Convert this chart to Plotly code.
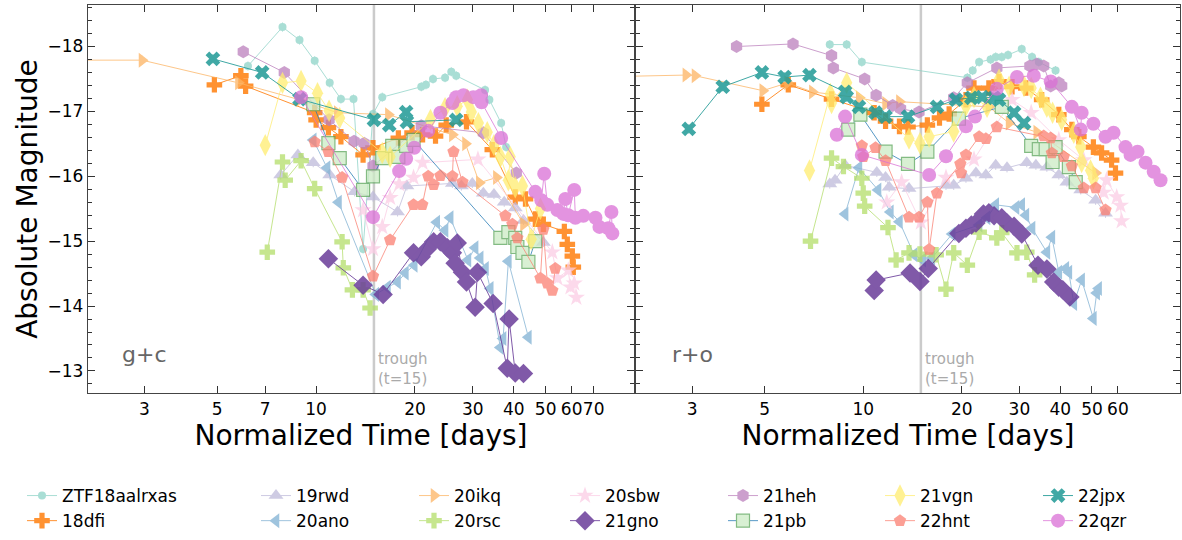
import plotly.graph_objects as go
from plotly.subplots import make_subplots
import math

# ---------------- data (Normalized time [days], absolute magnitude) ----------------
names = ["ZTF18aalrxas", "18dfi", "19rwd", "20ano", "20ikq", "20rsc", "20sbw",
         "21gno", "21heh", "21pb", "21vgn", "22hnt", "22jpx", "22qzr"]

ZTF18_g_t = [6.2, 7.9, 8.9, 9.9, 11.0, 11.9, 13.0, 13.9, 14.9, 15.9, 20.9, 21.6, 22.7, 24.7, 25.8, 26.7, 32.7, 33.7, 36.6, 37.9]
ZTF18_g_m = [-17.70, -18.30, -18.10, -17.78, -17.44, -17.19, -17.19, -14.88, -16.96, -17.22, -17.38, -17.41, -17.50, -17.52, -17.61, -17.55, -17.33, -17.18, -16.82, -16.45]
ZTF18_r_t = [7.9, 8.9, 9.9, 20.8, 21.6, 22.6, 24.5, 25.4, 26.5, 27.7, 30.5, 32.8, 34.4, 38.7]
ZTF18_r_m = [-18.03, -18.03, -17.76, -17.52, -17.63, -17.76, -17.80, -17.84, -17.84, -17.87, -17.96, -17.84, -17.76, -17.63]

dfi18_g_t = [4.9, 5.9, 6.1, 9.9, 10.0, 10.9, 11.9, 13.9, 14.9, 17.8, 19.6, 21.1, 23.1, 24.9, 28.7, 34.4, 40.4, 43.4, 46.5, 49.2, 57.0, 58.2, 60.3, 60.7]
dfi18_g_m = [-17.41, -17.55, -17.39, -16.98, -16.87, -16.75, -16.61, -16.33, -16.44, -16.59, -16.67, -16.64, -16.62, -16.79, -16.84, -16.41, -15.68, -15.65, -15.34, -15.26, -15.15, -14.95, -14.77, -14.60]
dfi18_r_t = [4.9, 5.9, 8.0, 10.8, 11.7, 12.9, 13.7, 15.7, 17.1, 18.3, 20.6, 21.8, 24.2, 26.0, 28.5, 31.4, 35.1, 39.6, 43.4, 45.6, 50.5, 53.5, 57.4, 59.0]
dfi18_r_m = [-17.11, -17.41, -17.19, -16.98, -16.85, -16.77, -16.76, -16.79, -16.90, -16.96, -17.18, -17.36, -17.36, -17.46, -17.38, -17.36, -17.18, -16.95, -16.72, -16.61, -16.45, -16.36, -16.25, -16.05]

rwd19_g_t = [7.8, 8.8, 9.8, 11.0, 13.1, 14.9, 17.7, 18.9, 26.0, 27.7, 29.9, 32.3, 34.8, 37.4, 40.4, 42.8, 49.2]
rwd19_g_m = [-16.02, -16.33, -16.21, -16.02, -15.76, -15.68, -15.45, -15.85, -15.89, -15.85, -15.89, -15.74, -15.72, -15.60, -15.51, -15.32, -14.98]
rwd19_r_t = [7.9, 8.2, 8.8, 11.0, 11.7, 12.0, 13.8, 17.9, 18.9, 20.6, 22.1, 23.7, 25.4, 27.5, 31.6, 33.7, 36.4, 39.6, 41.9, 46.2, 51.3, 55.0]
rwd19_r_m = [-15.88, -15.94, -16.17, -16.06, -15.98, -15.83, -15.81, -15.86, -15.86, -15.97, -16.05, -16.02, -16.17, -16.13, -16.21, -16.17, -16.14, -16.02, -15.91, -15.79, -15.63, -15.43]

ano20_g_t = [9.8, 10.8, 11.7, 15.2, 16.5, 17.7, 18.7, 19.9, 23.3, 24.7, 25.6, 29.0, 30.5, 31.6, 32.8, 33.9, 36.4, 37.1, 38.5, 44.3]
ano20_g_m = [-16.56, -16.13, -15.60, -14.18, -14.29, -14.37, -14.51, -14.63, -15.29, -15.17, -15.36, -14.71, -14.90, -14.74, -14.58, -14.27, -13.36, -13.50, -14.69, -13.52]
ano20_r_t = [8.8, 9.7, 11.1, 12.1, 12.9, 14.3, 15.2, 16.2, 18.7, 22.6, 23.9, 25.4, 29.3, 30.5, 31.4, 32.8, 36.4, 37.7, 39.6, 41.6, 42.5, 44.0, 46.5, 50.5, 51.7, 52.4]
ano20_r_m = [-15.42, -16.13, -15.79, -15.45, -15.30, -14.79, -14.71, -14.74, -15.11, -15.25, -15.36, -15.56, -15.52, -15.56, -15.40, -15.20, -14.83, -15.06, -14.52, -14.58, -14.52, -14.04, -14.40, -13.81, -14.20, -14.27]

ikq20_g_t = [1.6, 2.95, 5.8, 8.9, 11.6, 16.6, 26.0, 28.5, 31.4, 35.4, 42.8]
ikq20_g_m = [-17.79, -17.79, -17.44, -17.18, -16.98, -16.95, -16.64, -16.50, -15.90, -15.98, -15.26]
ikq20_r_t = [1.5, 2.87, 3.06, 4.93, 5.87, 6.99, 9.72, 11.7, 12.9, 24.2, 27.9, 33.9, 51.3]
ikq20_r_m = [-17.53, -17.56, -17.55, -17.32, -17.44, -17.30, -17.21, -17.12, -17.15, -17.07, -16.82, -16.68, -16.05]

rsc20_g_t = [7.1, 7.9, 8.05, 9.0, 9.9, 12.0, 12.1, 12.9, 13.9, 14.6]
rsc20_g_m = [-14.83, -16.22, -15.94, -16.24, -15.81, -14.99, -14.59, -14.25, -14.25, -13.97]
rsc20_r_t = [6.9, 8.0, 8.7, 9.9, 10.0, 10.1, 11.9, 12.6, 13.8, 14.9, 16.7, 17.9, 18.9, 20.8, 22.6, 25.6, 26.5, 29.5, 31.6, 33.4]
rsc20_r_m = [-15.0, -16.28, -16.15, -15.97, -15.74, -15.54, -15.21, -14.71, -14.82, -14.80, -14.79, -14.26, -14.82, -14.63, -15.14, -15.05, -15.13, -14.82, -14.83, -14.48]

sbw20_g_t = [13.9, 14.9, 15.9, 16.8, 17.9, 19.8, 21.1, 31.1, 52.4, 54.3, 58.6, 59.5, 61.1, 62.0]
sbw20_g_m = [-15.48, -14.88, -15.22, -15.67, -15.88, -15.98, -16.21, -16.26, -14.83, -14.43, -14.55, -14.29, -14.35, -14.13]
sbw20_r_t = [11.8, 13.1, 15.0, 17.9, 21.8, 28.5, 32.6, 39.6, 47.2, 54.3, 55.4, 59.5, 61.1, 61.6]
sbw20_r_m = [-15.60, -15.91, -15.29, -15.98, -16.26, -17.18, -16.98, -16.56, -16.25, -15.75, -15.94, -15.68, -15.55, -15.31]

gno21_g_t = [10.9, 13.9, 16.0, 19.8, 20.9, 21.8, 22.8, 23.9, 25.1, 26.0, 26.5, 26.9, 27.9, 28.7, 30.5, 31.0, 34.6, 38.2, 38.7, 40.4, 42.8]
gno21_g_m = [-14.73, -14.32, -14.18, -14.82, -14.76, -14.88, -14.99, -14.99, -14.90, -14.82, -14.66, -14.97, -14.52, -14.37, -13.98, -14.52, -14.04, -13.04, -13.80, -12.97, -12.96]
gno21_r_t = [10.8, 10.95, 13.9, 14.9, 15.8, 19.6, 20.6, 21.4, 22.1, 23.3, 24.2, 25.1, 26.5, 27.5, 28.9, 30.5, 34.2, 36.4, 38.2, 39.6, 40.7, 42.8]
gno21_r_m = [-14.24, -14.40, -14.51, -14.38, -14.58, -15.12, -15.20, -15.25, -15.28, -15.42, -15.44, -15.39, -15.36, -15.28, -15.23, -15.11, -14.63, -14.57, -14.37, -14.29, -14.25, -14.14]

heh21_g_t = [6.0, 8.0, 10.95, 13.05, 14.0, 14.9, 20.9, 32.3, 40.7]
heh21_g_m = [-17.92, -17.60, -16.87, -16.54, -16.51, -16.16, -16.78, -16.67, -16.05]
heh21_r_t = [4.1, 6.1, 8.0, 8.1, 10.1, 10.95, 12.3, 13.0, 14.8, 18.9, 20.8, 25.6, 32.3, 33.9, 35.6, 37.4, 39.6, 40.4]
heh21_r_m = [-18.0, -18.04, -17.86, -17.67, -17.50, -17.25, -17.09, -17.04, -16.99, -17.21, -17.44, -17.67, -17.70, -17.73, -17.70, -17.39, -17.44, -17.39]

pb21_g_t = [9.8, 10.9, 11.8, 13.9, 14.9, 15.9, 17.05, 17.8, 18.8, 19.8, 36.4, 38.5, 40.4, 41.0, 42.5, 44.3, 46.5]
pb21_g_m = [-17.11, -16.51, -16.28, -15.79, -16.0, -16.28, -16.47, -16.30, -16.47, -16.56, -15.05, -15.14, -15.05, -14.91, -14.82, -14.68, -15.0]
pb21_r_t = [9.0, 9.8, 11.7, 13.7, 15.7, 19.6, 26.5, 32.6, 34.4, 36.1, 37.9, 38.7, 42.5, 44.6]
pb21_r_m = [-16.72, -16.95, -16.38, -16.19, -16.38, -16.89, -17.07, -16.47, -16.42, -16.42, -16.22, -16.45, -16.14, -15.91]

vgn21_g_t = [7.0, 7.9, 9.0, 10.1, 10.95, 11.8, 15.9, 16.8, 22.3, 24.7, 26.9, 28.9, 29.7, 31.2, 33.2, 34.8, 36.4, 38.5, 39.0, 40.4, 42.5, 45.2, 48.2]
vgn21_g_m = [-16.48, -17.44, -17.47, -17.28, -17.01, -16.90, -16.36, -16.30, -16.87, -17.05, -17.08, -17.18, -16.99, -16.82, -16.68, -16.48, -16.30, -15.94, -16.30, -15.83, -15.85, -15.03, -15.50]
vgn21_r_t = [6.85, 7.93, 8.0, 8.9, 13.8, 14.9, 15.9, 18.9, 20.6, 21.8, 23.9, 26.0, 27.9, 31.0, 32.6, 34.8, 36.4, 37.9, 40.4, 44.0, 46.2, 46.5, 49.5, 50.5]
vgn21_r_m = [-16.09, -17.27, -17.13, -17.44, -16.58, -16.51, -16.61, -16.69, -17.09, -17.22, -17.07, -17.49, -17.38, -17.39, -17.36, -17.21, -17.07, -16.98, -16.87, -16.67, -16.45, -16.22, -16.09, -15.97]

hnt22_g_t = [9.9, 10.9, 12.0, 14.9, 16.8, 19.8, 21.05, 21.95, 22.8, 23.9, 26.0, 26.2, 27.9, 37.7, 39.6, 41.0, 48.2, 49.2, 50.6, 52.4, 53.5]
hnt22_g_m = [-16.53, -16.38, -15.98, -14.46, -15.02, -15.56, -15.56, -16.0, -15.87, -16.01, -16.0, -16.38, -15.91, -15.39, -15.26, -15.05, -14.43, -15.18, -14.35, -14.24, -14.58]
hnt22_r_t = [9.9, 10.0, 10.9, 11.7, 13.8, 14.8, 15.7, 15.9, 16.8, 19.8, 19.9, 20.6, 22.6, 23.7, 25.6, 35.6, 37.4, 37.7, 41.0, 43.4, 47.2, 51.3, 55.0]
hnt22_r_m = [-16.47, -16.30, -16.44, -16.24, -15.37, -15.37, -15.60, -14.87, -15.74, -16.19, -16.05, -16.33, -16.61, -16.58, -16.76, -16.62, -16.59, -16.36, -16.30, -16.16, -15.82, -15.82, -15.48]

jpx22_g_t = [4.85, 6.85, 8.9, 15.0, 16.7, 18.8, 18.9, 26.7]
jpx22_g_m = [-17.81, -17.60, -17.19, -16.87, -16.79, -16.99, -16.84, -16.87]
jpx22_r_t = [2.93, 3.72, 4.9, 5.75, 6.85, 8.8, 8.9, 9.7, 10.9, 11.7, 13.7, 16.8, 19.2, 21.4, 23.1, 25.1, 26.0, 28.9, 31.0]
jpx22_r_m = [-16.73, -17.38, -17.60, -17.53, -17.56, -17.30, -17.22, -17.07, -16.98, -16.92, -16.92, -17.07, -17.18, -17.21, -17.22, -17.21, -17.18, -16.98, -16.82]

qzr22_g_t = [9.0, 14.9, 17.9, 18.8, 19.9, 21.95, 23.9, 26.0, 26.7, 28.1, 30.1, 31.8, 31.9, 36.6, 46.5, 48.5, 49.5, 50.6, 54.3, 56.6, 57.4, 58.6, 61.1, 61.6, 65.1, 70.9, 72.9, 77.6, 79.3, 79.8]
qzr22_g_m = [-17.22, -15.37, -16.08, -16.27, -16.44, -16.70, -16.98, -17.13, -17.22, -17.25, -17.22, -17.25, -17.14, -16.59, -15.76, -15.63, -16.04, -15.56, -15.48, -15.42, -15.65, -15.40, -15.79, -15.36, -15.39, -15.36, -15.22, -15.20, -15.45, -15.12]
qzr22_r_t = [8.3, 8.8, 9.9, 15.9, 17.9, 20.6, 21.95, 25.6, 29.5, 33.2, 37.4, 43.4, 46.2, 46.5, 50.5, 55.0, 58.2, 63.3, 65.6, 68.9, 72.9, 77.2, 81.0]
qzr22_r_m = [-16.64, -16.92, -16.33, -16.02, -16.31, -16.77, -16.92, -17.35, -17.53, -17.55, -17.46, -17.07, -16.72, -16.98, -16.81, -16.61, -16.67, -16.45, -16.33, -16.38, -16.21, -16.07, -15.94]

g_data = [(ZTF18_g_t, ZTF18_g_m), (dfi18_g_t, dfi18_g_m), (rwd19_g_t, rwd19_g_m), (ano20_g_t, ano20_g_m),
          (ikq20_g_t, ikq20_g_m), (rsc20_g_t, rsc20_g_m), (sbw20_g_t, sbw20_g_m), (gno21_g_t, gno21_g_m),
          (heh21_g_t, heh21_g_m), (pb21_g_t, pb21_g_m), (vgn21_g_t, vgn21_g_m), (hnt22_g_t, hnt22_g_m),
          (jpx22_g_t, jpx22_g_m), (qzr22_g_t, qzr22_g_m)]
r_data = [(ZTF18_r_t, ZTF18_r_m), (dfi18_r_t, dfi18_r_m), (rwd19_r_t, rwd19_r_m), (ano20_r_t, ano20_r_m),
          (ikq20_r_t, ikq20_r_m), (rsc20_r_t, rsc20_r_m), (sbw20_r_t, sbw20_r_m), (gno21_r_t, gno21_r_m),
          (heh21_r_t, heh21_r_m), (pb21_r_t, pb21_r_m), (vgn21_r_t, vgn21_r_m), (hnt22_r_t, hnt22_r_m),
          (jpx22_r_t, jpx22_r_m), (qzr22_r_t, qzr22_r_m)]

left_ticks = [3, 5, 7, 10, 20, 30, 40, 50, 60, 70]
right_ticks = [3, 5, 10, 20, 30, 40, 50, 60]
trough_t = 15

# ---------------- styles ----------------
styles = {
    "ZTF18aalrxas": dict(color="#8dd3c7", symbol="circle", size=8, line="#8dd3c7", edge="#8dd3c7"),
    "18dfi": dict(color="#ff7f0e", symbol="cross", size=13, line="#ff7f0e", edge="#ff7f0e"),
    "19rwd": dict(color="#bebada", symbol="triangle-up", size=13, line="#bebada", edge="#bebada"),
    "20ano": dict(color="#80b1d3", symbol="triangle-left", size=13, line="#80b1d3", edge="#80b1d3"),
    "20ikq": dict(color="#fdb462", symbol="triangle-right", size=13, line="#fdb462", edge="#fdb462"),
    "20rsc": dict(color="#b3de69", symbol="cross", size=13, line="#b3de69", edge="#b3de69"),
    "20sbw": dict(color="#fccde5", symbol="star", size=13, line="#fccde5", edge="#fccde5"),
    "21gno": dict(color="#6a3d9a", symbol="diamond", size=15, line="#6a3d9a", edge="#6a3d9a"),
    "21heh": dict(color="#bc80bd", symbol="hexagon", size=13, line="#bc80bd", edge="#bc80bd"),
    "21pb": dict(color="#ccebc5", symbol="square", size=13, line="#1f77b4", edge="#5aa55a"),
    "21vgn": dict(color="#ffed6f", symbol="diamond-tall", size=16, line="#ffed6f", edge="#ffed6f"),
    "22hnt": dict(color="#fb8072", symbol="pentagon", size=13, line="#fb8072", edge="#fb8072"),
    "22jpx": dict(color="#1f9a96", symbol="x", size=13, line="#1f9a96", edge="#1f9a96"),
    "22qzr": dict(color="#da70d6", symbol="circle", size=14, line="#da70d6", edge="#da70d6"),
}

FONT = "DejaVu Sans"
fig = make_subplots(rows=1, cols=2, horizontal_spacing=0.002, shared_yaxes=False)

for i, name in enumerate(names):
    st = styles[name]
    lg = "legend" if i // 2 == 0 else f"legend{i // 2 + 1}"
    for col, data in ((1, g_data[i]), (2, r_data[i])):
        t, m = data
        fig.add_trace(go.Scatter(
            x=t, y=m, mode="lines+markers", name=name,
            legend=lg, showlegend=(col == 1), legendgroup=name,
            opacity=0.75 if name not in ("21gno", "18dfi", "22jpx") else 0.85,
            line=dict(color=st["line"], width=1),
            marker=dict(symbol=st["symbol"], size=st["size"], color=st["color"],
                        line=dict(color=st["edge"], width=1.2 if name == "21pb" else 0)),
            error_y=dict(type="constant", value=0.07, thickness=1, width=0, color=st["color"]),
        ), row=1, col=col)

# trough lines (shape x is in data units on log axes)
for xr, yr in (("x", "y"), ("x2", "y2")):
    fig.add_shape(type="line", xref=xr, yref=f"{yr} domain", x0=trough_t, x1=trough_t, y0=0, y1=1,
                  line=dict(color="rgba(160,160,160,0.55)", width=2.5), layer="below")

xrng = [math.log10(2.02), math.log10(92.9)]
yrng = [-12.66, -18.64]
axcommon = dict(showline=True, linecolor="#444", linewidth=1.3, mirror="ticks", ticks="inside",
                ticklen=7, tickwidth=1.1, tickcolor="#333", showgrid=False, zeroline=False,
                tickfont=dict(family=FONT, size=17, color="black"))
fig.update_xaxes(type="log", range=xrng, tickangle=0, **axcommon,
                 title=dict(text="Normalized Time [days]", font=dict(family=FONT, size=28, color="black"), standoff=5))
fig.update_xaxes(tickvals=left_ticks, ticktext=[str(v) for v in left_ticks], row=1, col=1)
fig.update_xaxes(tickvals=right_ticks, ticktext=[str(v) for v in right_ticks], row=1, col=2)
fig.update_yaxes(range=yrng, dtick=1, tick0=-18, **axcommon,
                 minor=dict(dtick=0.2, ticklen=4, ticks="inside", tickcolor="#333", tickwidth=1))
fig.update_yaxes(showticklabels=False, row=1, col=2)

fig.update_layout(xaxis=dict(domain=[0, 0.5]), xaxis2=dict(domain=[0.5018, 1]))

# y-axis title as rotated text left of the tick labels
fig.add_annotation(x=-0.056, y=0.5, xref="paper", yref="paper", text="Absolute Magnitude",
                   textangle=-90, showarrow=False, xanchor="center", yanchor="middle",
                   font=dict(family=FONT, size=28, color="black"))

# annotations
fig.add_annotation(x=math.log10(3.0), y=-13.25, xref="x", yref="y", text="g+c", showarrow=False,
                   font=dict(family=FONT, size=22, color="#666"))
fig.add_annotation(x=math.log10(3.0), y=-13.25, xref="x2", yref="y2", text="r+o", showarrow=False,
                   font=dict(family=FONT, size=22, color="#666"))
for xr, yr in (("x", "y"), ("x2", "y2")):
    fig.add_annotation(x=math.log10(15.25), y=-13.03, xref=xr, yref=yr, text="trough<br>(t=15)",
                       showarrow=False, xanchor="left", align="left",
                       font=dict(family=FONT, size=15, color="#aaa"))

# legends: 7 columns x 2 rows
leg_x_px = [22, 256, 414, 565, 723, 880, 1038]
for k, xp in enumerate(leg_x_px):
    key = "legend" if k == 0 else f"legend{k + 1}"
    fig.update_layout(**{key: dict(x=xp / 1182, y=1 - 478 / 540, xref="container", yref="container",
                                   xanchor="left", yanchor="top", orientation="v",
                                   font=dict(family=FONT, size=17, color="black"),
                                   bgcolor="rgba(0,0,0,0)", itemwidth=30, tracegroupgap=0)})

fig.update_layout(width=1182, height=540, margin=dict(l=88, r=2, t=5, b=147, autoexpand=False),
                  paper_bgcolor="white", plot_bgcolor="white",
                  font=dict(family=FONT, size=17, color="black"))

fig.write_html("out.html", config={"displayModeBar": False},
               post_script="document.body.style.margin='0px';")
